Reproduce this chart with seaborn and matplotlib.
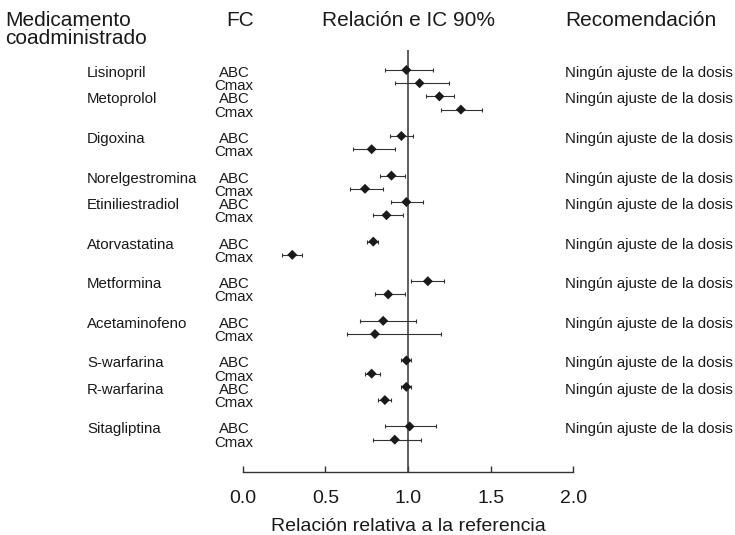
import matplotlib
matplotlib.use("Agg")
import matplotlib.pyplot as plt
import numpy as np
import pandas as pd
import seaborn as sns

# Co-administered drugs, grouped the way they are listed in the table
clusters = [
    ["Lisinopril", "Metoprolol"],
    ["Digoxina"],
    ["Norelgestromina", "Etiniliestradiol"],
    ["Atorvastatina"],
    ["Metformina"],
    ["Acetaminofeno"],
    ["S-warfarina", "R-warfarina"],
    ["Sitagliptina"],
]
drugs = [d for cl in clusters for d in cl]

# Geometric mean ratio and 90% CI (AUC = "ABC", Cmax)
abc_ratio = [0.99, 1.19, 0.96, 0.90, 0.99, 0.79, 1.12, 0.85, 0.99, 0.99, 1.01]
abc_lo    = [0.86, 1.11, 0.89, 0.83, 0.90, 0.75, 1.02, 0.71, 0.96, 0.96, 0.86]
abc_hi    = [1.15, 1.28, 1.03, 0.98, 1.09, 0.82, 1.22, 1.05, 1.02, 1.02, 1.17]
cmax_ratio = [1.07, 1.32, 0.78, 0.74, 0.87, 0.30, 0.88, 0.80, 0.78, 0.86, 0.92]
cmax_lo    = [0.92, 1.20, 0.67, 0.65, 0.79, 0.24, 0.80, 0.63, 0.74, 0.82, 0.79]
cmax_hi    = [1.25, 1.45, 0.92, 0.85, 0.97, 0.36, 0.98, 1.20, 0.83, 0.90, 1.08]
recommendation = ["Ningún ajuste de la dosis"] * len(drugs)
pk_params = ["ABC", "Cmax"]
x_ticks = [0.0, 0.5, 1.0, 1.5, 2.0]
x_tick_labels = ["0.0", "0.5", "1.0", "1.5", "2.0"]

# Row index for each drug: two rows per drug, a blank row after each cluster
drug_row = {}
r = 0
for cl in clusters:
    for d in cl:
        drug_row[d] = r
        r += 2
    r += 1

records = []
for i, d in enumerate(drugs):
    records.append(dict(drug=d, pk="ABC", row=drug_row[d],
                        ratio=abc_ratio[i], lo=abc_lo[i], hi=abc_hi[i]))
    records.append(dict(drug=d, pk="Cmax", row=drug_row[d] + 1,
                        ratio=cmax_ratio[i], lo=cmax_lo[i], hi=cmax_hi[i]))
df = pd.DataFrame(records)

sns.set_theme(style="white")
plt.rcParams["font.family"] = ["Liberation Sans", "DejaVu Sans"]

W, H = 735, 535
fig = plt.figure(figsize=(W / 100, H / 100), dpi=100)
ax = fig.add_axes([242.7 / W, 1 - 472 / H, 330.6 / W, 422 / H])

txt = "#1a1a1a"
ax.axvline(1.0, color="#444444", lw=1.2, zorder=1)
ax.errorbar(df["ratio"], df["row"],
            xerr=[df["ratio"] - df["lo"], df["hi"] - df["ratio"]],
            fmt="none", ecolor="#333333", elinewidth=0.8,
            capsize=1.6, capthick=0.8, zorder=2)
sns.scatterplot(data=df, x="ratio", y="row", marker="D", s=26,
                color="#1a1a1a", edgecolor="none", legend=False,
                ax=ax, zorder=3)

ax.set_xlim(0, 2)
ax.set_ylim(30.45, -1.515)
ax.set_yticks([])
ax.set_ylabel("")
ax.set_xticks(x_ticks)
ax.set_xticklabels(x_tick_labels)
for s in ["left", "right", "top"]:
    ax.spines[s].set_visible(False)
ax.spines["bottom"].set_color("#333333")
ax.spines["bottom"].set_linewidth(1.0)
ax.tick_params(axis="x", bottom=True, direction="in", length=4, width=1,
               color="#333333", labelsize=14, labelcolor=txt, pad=13)
ax.set_xlabel("Relación relativa a la referencia", fontsize=14,
              color=txt, labelpad=8)

# Table columns beside the forest plot
px = lambda p: (p - 242.7) / 165.3
dy = 0.23
for i, d in enumerate(drugs):
    r0 = drug_row[d]
    ax.text(px(87), r0 + dy, d, ha="left", va="center", fontsize=10.8,
            color=txt, clip_on=False)
    ax.text(px(565), r0 + dy, recommendation[i], ha="left", va="center",
            fontsize=10.8, color=txt, clip_on=False)
    for k, p in enumerate(pk_params):
        ax.text(px(234), r0 + k + dy, p, ha="center", va="center",
                fontsize=10.8, color=txt, clip_on=False)

# Column headers
hs = 15
fig.text(5 / W, 1 - 20 / H, "Medicamento", ha="left", va="center",
         fontsize=hs, color=txt)
fig.text(5 / W, 1 - 39 / H, "coadministrado", ha="left", va="center",
         fontsize=hs, color=txt)
fig.text(240 / W, 1 - 20 / H, "FC", ha="center", va="center",
         fontsize=hs, color=txt)
fig.text(408 / W, 1 - 20 / H, "Relación e IC 90%", ha="center",
         va="center", fontsize=hs, color=txt)
fig.text(565 / W, 1 - 20 / H, "Recomendación", ha="left", va="center",
         fontsize=hs, color=txt)

fig.savefig("out.png", dpi=100, facecolor="white")
